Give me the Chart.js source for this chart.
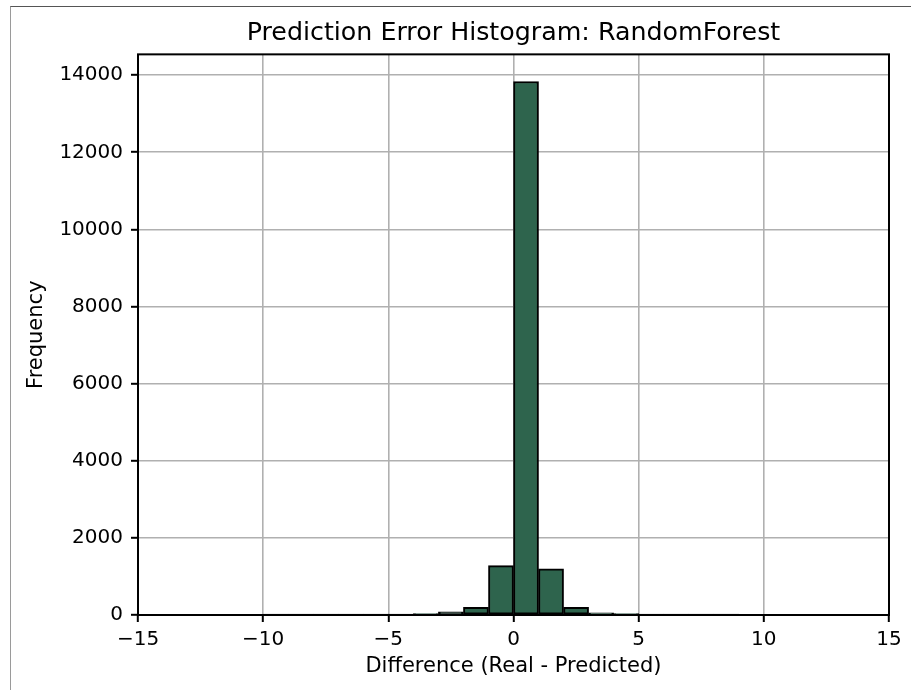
<!DOCTYPE html>
<html>
<head>
<meta charset="utf-8">
<script src="https://cdn.jsdelivr.net/npm/chart.js@4"></script>
<style>
  html, body { margin: 0; padding: 0; background: #fff; }
  #wrap { position: relative; width: 911px; height: 690px; }
  #frame { position: absolute; left: 10px; top: 6px; right: 0; bottom: 0;
           border-left: 1px solid #9a9a9a; border-top: 1px solid #555; pointer-events: none; }
</style>
</head>
<body>
<div id="wrap">
  <canvas id="myChart" width="911" height="690"></canvas>
  <div id="frame"></div>
</div>
<script>
// bin edges: -15 .. 15, width 1
var binStarts = [-15, -14, -13, -12, -11, -10, -9, -8, -7, -6, -5, -4, -3, -2, -1,
                 0, 1, 2, 3, 4, 5, 6, 7, 8, 9, 10, 11, 12, 13, 14];
var counts = [0, 0, 0, 0, 0, 1, 1, 5, 4, 8, 15, 40, 85, 200, 1280,
              13835, 1195, 200, 55, 35, 12, 6, 2, 1, 0, 0, 0, 0, 0, 0];
var xTicks = [-15, -10, -5, 0, 5, 10, 15];
var yTicks = [0, 2000, 4000, 6000, 8000, 10000, 12000, 14000];

var font = "'DejaVu Sans', sans-serif";

var points = binStarts.map(function (b, i) {
    return { x: b + 0.5, y: counts[i] };
});

var framePlugin = {
    id: 'frame',
    afterDraw: function (chart) {
        var a = chart.chartArea, ctx = chart.ctx;
        ctx.save();
        ctx.strokeStyle = '#000';
        ctx.lineWidth = 2;
        ctx.strokeRect(a.left, a.top, a.right - a.left, a.bottom - a.top);
        ctx.restore();
    }
};

var ctx = document.getElementById('myChart').getContext('2d');
var myChart = new Chart(ctx, {
    type: 'bar',
    data: {
        datasets: [{
            label: 'Frequency',
            data: points,
            backgroundColor: '#2e644d',
            borderColor: '#000',
            borderWidth: 2,
            borderSkipped: false,
            barPercentage: 1,
            categoryPercentage: 1
        }]
    },
    plugins: [framePlugin],
    options: {
        responsive: false,
        animation: false,
        layout: { padding: { left: 12, right: 22, top: 0, bottom: 0 } },
        plugins: {
            legend: { display: false },
            tooltip: { enabled: false },
            title: {
                display: true,
                fullSize: false,
                text: 'Prediction Error Histogram: RandomForest',
                color: '#000',
                font: { family: font, size: 25.3, weight: 'normal' },
                padding: { top: 18, bottom: 6 }
            }
        },
        scales: {
            x: {
                type: 'linear',
                min: -15,
                max: 15,
                offset: false,
                z: 1,
                afterBuildTicks: function (s) {
                    s.ticks = xTicks.map(function (v) { return { value: v }; });
                },
                afterFit: function (s) { s.height = 75; },
                ticks: {
                    color: '#000',
                    font: { family: font, size: 20 },
                    padding: 6,
                    maxRotation: 0,
                    callback: function (v) { return String(v).replace('-', '\u2212'); }
                },
                grid: { offset: false, color: '#b0b0b0', lineWidth: 1.6, tickColor: '#000', tickLength: 7, tickWidth: 2 },
                border: { display: false },
                title: {
                    display: true,
                    text: 'Difference (Real - Predicted)',
                    color: '#000',
                    font: { family: font, size: 21 },
                    padding: { top: 4, bottom: 11 }
                }
            },
            y: {
                min: 0,
                max: 14540,
                z: 1,
                afterBuildTicks: function (s) {
                    s.ticks = yTicks.map(function (v) { return { value: v }; });
                },
                afterFit: function (s) { s.width = 126; },
                ticks: {
                    color: '#000',
                    font: { family: font, size: 20 },
                    padding: 8,
                    callback: function (v) { return String(v); }
                },
                grid: { color: '#b0b0b0', lineWidth: 1.6, tickColor: '#000', tickLength: 7, tickWidth: 2 },
                border: { display: false },
                title: {
                    display: true,
                    text: 'Frequency',
                    color: '#000',
                    font: { family: font, size: 21 },
                    padding: { top: 12, bottom: 4 }
                }
            }
        }
    }
});
</script>
</body>
</html>
